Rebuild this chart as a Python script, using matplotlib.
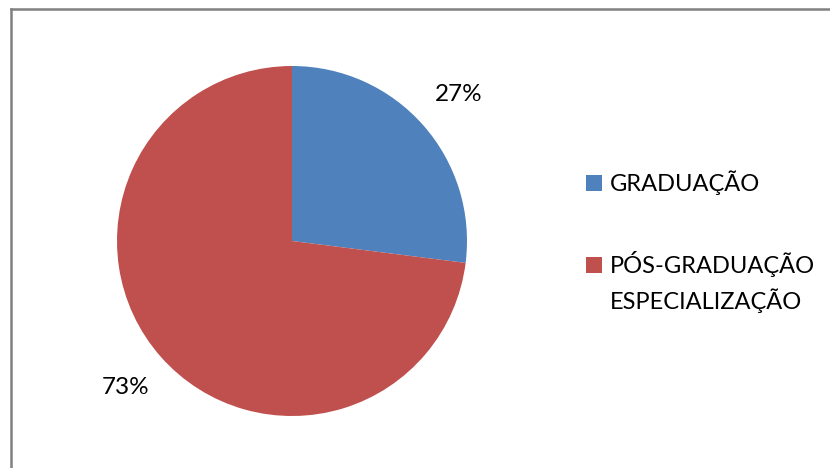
import matplotlib
matplotlib.use("Agg")
import matplotlib.pyplot as plt
from matplotlib.patches import Rectangle
from matplotlib.lines import Line2D

categories = ["GRADUAÇÃO", "PÓS-GRADUAÇÃO\nESPECIALIZAÇÃO"]
values = [27, 73]
colors = ["#4F81BD", "#C0504D"]

plt.rcParams["font.family"] = ["Lato", "DejaVu Sans"]

W, H = 830, 468
fig = plt.figure(figsize=(W / 100, H / 100), dpi=100)
fig.patch.set_facecolor("white")

# Pie area: centre (292, 241) px, radius 175 px
cx, cy, r = 292, 241, 175
ax = fig.add_axes([(cx - r) / W, (H - cy - r) / H, 2 * r / W, 2 * r / H])
wedges, texts = ax.pie(values, colors=colors, startangle=90, counterclock=False,
                       labels=[f"{v}%" for v in values], labeldistance=1.27,
                       textprops={"fontsize": 17.5, "color": "black"},
                       wedgeprops={"linewidth": 0})
for t in texts:
    t.set_horizontalalignment("center")
    t.set_verticalalignment("center")
ax.set_xlim(-1, 1)
ax.set_ylim(-1, 1)
ax.set_aspect("equal")
ax.axis("off")

# Chart frame (top and left edges visible)
frame_kw = dict(transform=fig.transFigure, color="#808080", linewidth=1.8)
fig.add_artist(Line2D([10.5 / W, 10.5 / W], [0, 1 - 8.5 / H], **frame_kw))
fig.add_artist(Line2D([10.5 / W, 1], [1 - 8.5 / H, 1 - 8.5 / H], **frame_kw))

# Legend: square beside the first line of each entry
legend_rows = [183, 265]  # square centre y, px
line_step = 36            # px between text lines
for label, color, ycen in zip(categories, colors, legend_rows):
    fig.add_artist(Rectangle((586 / W, 1 - (ycen + 8) / H), 16 / W, 16 / H,
                             transform=fig.transFigure, facecolor=color, edgecolor="none"))
    for i, line in enumerate(label.split("\n")):
        fig.text(610 / W, 1 - (ycen + 8 + i * line_step) / H, line, fontsize=17,
                 ha="left", va="baseline")

fig.savefig("out.png", dpi=100, facecolor="white")
